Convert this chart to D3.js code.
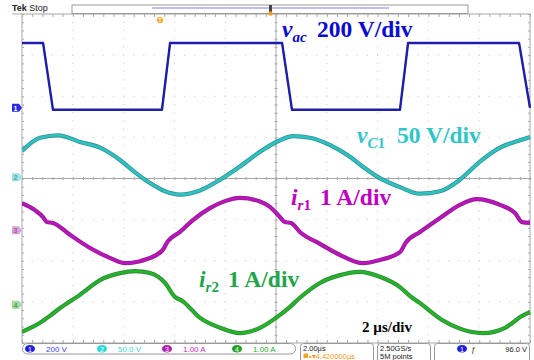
<!DOCTYPE html>
<html>
<head>
<meta charset="utf-8">
<script src="https://cdn.jsdelivr.net/npm/d3@7/dist/d3.min.js"></script>
<style>
  body { margin: 0; background: #fff; }
  svg { display: block; }
</style>
</head>
<body>
<div class="canvas"></div>
<script>
// scope settings: 2 us/div, 10 x 8 divisions
const timeDomain = [0, 20];
const divRange = [-4, 4];

// channel vertical scale (units per div) and marker position (div from centre)
const chScale = [200, 50, 1, 1];
const chOffset = [1.72, 0.03, -1.26, -3.07];

// ch1 v_ac (V)
const vacTime = [0, 0.83, 1.22, 5.51, 5.83, 10.24, 10.63, 14.88, 15.2, 19.57, 20];
const vacValue = [315, 315, -10, -10, 315, 315, -10, -10, 315, 315, 0];

// ch2 v_C1 (V)
const vc1Time = [0, 0.71, 1.42, 2.28, 3.07, 3.86, 4.45, 5.04, 5.63, 6.22, 7.01, 7.8, 8.58, 9.37, 10.16,
  10.67, 11.34, 12.13, 12.91, 13.5, 14.09, 14.88, 15.67, 16.46, 17.24, 18.03, 18.82, 19.61, 20];
const vc1Value = [32, 48, 51, 43, 36, 21, 6, -7, -17, -21, -16, -3, 13, 31, 45,
  50, 48, 39, 25, 11, -1, -12, -20, -17, -3, 19, 36, 45, 49];

// ch3 i_r1 (A)
const ir1Time = [0, 0.51, 0.83, 0.98, 1.22, 1.89, 2.68, 3.46, 4.06, 4.65, 5.51, 5.75, 6.22, 6.73, 7.4, 7.99, 8.58,
  9.37, 9.76, 10.16, 10.35, 10.59, 10.94, 11.73, 12.52, 13.43, 14.09, 14.88, 15.12, 15.67, 16.46, 17.24, 17.91,
  18.82, 19.41, 19.69, 20];
const ir1Value = [0.66, 0.49, 0.32, 0.2, 0.18, -0.11, -0.43, -0.67, -0.8, -0.75, -0.5, -0.26, -0.04, 0.25, 0.54, 0.71, 0.79,
  0.7, 0.57, 0.32, 0.2, 0.18, -0.04, -0.33, -0.6, -0.8, -0.72, -0.53, -0.29, -0.04, 0.3, 0.62, 0.76,
  0.62, 0.42, 0.2, 0.18];

// ch4 i_r2 (A)
const ir2Time = [0, 0.71, 1.1, 1.5, 2.28, 3.07, 3.86, 4.45, 5.04, 5.63, 6.02, 6.3, 7.01, 7.8, 8.58, 9.37,
  10.04, 10.55, 10.94, 11.73, 12.52, 13.31, 14.09, 14.88, 15.28, 15.67, 16.54, 17.24, 18.15, 19.02, 19.69, 20];
const ir2Value = [-0.66, -0.44, -0.27, -0.08, 0.24, 0.6, 0.77, 0.82, 0.77, 0.53, 0.19, 0.1, -0.32, -0.56, -0.69, -0.56,
  -0.3, -0.05, 0.17, 0.53, 0.72, 0.8, 0.68, 0.43, 0.21, 0.04, -0.37, -0.58, -0.69, -0.56, -0.27, -0.18];

const svgWidth = 534, svgHeight = 360;
const plot = { left: 22, right: 530, top: 14, bottom: 343 };

const svg = d3.select('.canvas').append('svg')
  .attr('width', svgWidth)
  .attr('height', svgHeight)
  .style('font-family', '"Liberation Sans", Arial, sans-serif');

const x = d3.scaleLinear().domain(timeDomain).range([plot.left, plot.right]);
const yDiv = d3.scaleLinear().domain(divRange).range([plot.bottom, plot.top]);

const gridColor = '#a8a8a8';

// graticule dots
const majorT = d3.range(2, 20, 2).filter(t => t !== 10);
const majorD = d3.range(-3, 4, 1).filter(d => d !== 0);
const minorT = d3.range(0, 20.001, 0.4);
const minorD = d3.range(-4, 4.001, 0.2);

const grid = svg.append('g');
majorT.forEach(t => {
  grid.selectAll(null).data(minorD).enter().append('rect')
    .attr('x', x(t) - 0.5).attr('y', d => yDiv(d) - 0.5)
    .attr('width', 1).attr('height', 1).attr('fill', '#c4c4c4');
});
majorD.forEach(dv => {
  grid.selectAll(null).data(minorT).enter().append('rect')
    .attr('x', t => x(t) - 0.5).attr('y', yDiv(dv) - 0.5)
    .attr('width', 1).attr('height', 1).attr('fill', '#c4c4c4');
});

// centre cross with minor ticks
grid.append('line').attr('x1', x(10)).attr('x2', x(10)).attr('y1', plot.top).attr('y2', plot.bottom)
  .attr('stroke', gridColor).attr('stroke-width', 1);
grid.append('line').attr('x1', plot.left).attr('x2', plot.right).attr('y1', yDiv(0)).attr('y2', yDiv(0))
  .attr('stroke', gridColor).attr('stroke-width', 1);

const xAxisCentre = d3.axisBottom(x).tickValues(minorT).tickSizeInner(3).tickSizeOuter(0).tickFormat('');
const yAxisCentre = d3.axisLeft(yDiv).tickValues(minorD).tickSizeInner(3).tickSizeOuter(0).tickFormat('');

function styleAxis(g) {
  g.select('.domain').remove();
  g.selectAll('line').attr('stroke', gridColor);
}
grid.append('g').attr('transform', `translate(0 ${yDiv(0) - 1.5})`).call(xAxisCentre).call(styleAxis);
grid.append('g').attr('transform', `translate(${x(10) + 1.5} 0)`).call(yAxisCentre).call(styleAxis);

// border ticks
grid.append('g').attr('transform', `translate(0 ${plot.top})`)
  .call(d3.axisBottom(x).tickValues(minorT).tickSizeInner(3).tickSizeOuter(0).tickFormat('')).call(styleAxis);
grid.append('g').attr('transform', `translate(0 ${plot.bottom})`)
  .call(d3.axisTop(x).tickValues(minorT).tickSizeInner(3).tickSizeOuter(0).tickFormat('')).call(styleAxis);
grid.append('g').attr('transform', `translate(${plot.left} 0)`)
  .call(d3.axisRight(yDiv).tickValues(minorD).tickSizeInner(2).tickSizeOuter(0).tickFormat('')).call(styleAxis);
grid.append('g').attr('transform', `translate(${plot.right} 0)`)
  .call(d3.axisLeft(yDiv).tickValues(minorD).tickSizeInner(2).tickSizeOuter(0).tickFormat('')).call(styleAxis);

grid.append('rect')
  .attr('x', plot.left).attr('y', plot.top)
  .attr('width', plot.right - plot.left).attr('height', plot.bottom - plot.top)
  .attr('fill', 'none').attr('stroke', gridColor).attr('stroke-width', 1);
grid.append('line').attr('x1', 12).attr('x2', plot.left).attr('y1', plot.top).attr('y2', plot.top)
  .attr('stroke', gridColor);

// traces
svg.append('clipPath').attr('id', 'clip').append('rect')
  .attr('x', plot.left).attr('y', plot.top - 2)
  .attr('width', plot.right - plot.left + 1).attr('height', plot.bottom - plot.top + 4);

const traces = [
  { t: vacTime, v: vacValue, ch: 0, under: '#00006e', core: '#1a1ac4', w: [2.4, 1.3], curve: d3.curveLinear },
  { t: vc1Time, v: vc1Value, ch: 1, under: '#137a7c', core: '#2cc3c3', w: [4.2, 2.6], curve: d3.curveMonotoneX },
  { t: ir1Time, v: ir1Value, ch: 2, under: '#6e006e', core: '#c010c0', w: [4.2, 2.6], curve: d3.curveMonotoneX },
  { t: ir2Time, v: ir2Value, ch: 3, under: '#0f6e12', core: '#22b52a', w: [4.2, 2.6], curve: d3.curveMonotoneX }
];

const traceGroup = svg.append('g').attr('clip-path', 'url(#clip)');
traces.forEach(tr => {
  const s = chScale[tr.ch], o = chOffset[tr.ch];
  const y = d3.scaleLinear()
    .domain([(divRange[0] - o) * s, (divRange[1] - o) * s])
    .range([plot.bottom, plot.top]);
  const pts = tr.t.map((t, i) => [t, tr.v[i]]);
  const line = d3.line().x(d => x(d[0])).y(d => y(d[1])).curve(tr.curve);
  traceGroup.append('path').attr('d', line(pts)).attr('fill', 'none')
    .attr('stroke', tr.under).attr('stroke-width', tr.w[0]).attr('stroke-linejoin', 'round').attr('opacity', 0.85);
  traceGroup.append('path').attr('d', line(pts)).attr('fill', 'none')
    .attr('stroke', tr.core).attr('stroke-width', tr.w[1]).attr('stroke-linejoin', 'round');
});

// channel ground markers on the left
const markerFill = ['#2a2ae6', '#9fe2e2', '#d9a3d9', '#a6d8a6'];
const markerText = ['#fff', '#4aa', '#a5a', '#4a4'];
chOffset.forEach((o, i) => {
  const yy = yDiv(o);
  svg.append('path')
    .attr('d', `M12 ${yy - 4} H19 L22 ${yy} L19 ${yy + 4} H12 Z`)
    .attr('fill', markerFill[i]);
  svg.append('text').attr('x', 15.5).attr('y', yy + 3).attr('text-anchor', 'middle')
    .attr('font-size', 7).attr('font-weight', 'bold').attr('fill', markerText[i]).text(i + 1);
});

// labels
const serif = '"Liberation Serif", "Times New Roman", serif';
function label(cfg) {
  const g = svg.append('g').attr('fill', cfg.color).attr('font-family', serif).attr('font-weight', 'bold');
  const sym = g.append('text').attr('x', cfg.x).attr('y', cfg.y).attr('font-size', 23.5);
  sym.append('tspan').attr('font-style', 'italic').text(cfg.sym);
  const sub = sym.append('tspan').attr('font-size', 15).attr('dy', 5);
  sub.append('tspan').attr('font-style', 'italic').text(cfg.sub);
  if (cfg.subNum) sub.append('tspan').text(cfg.subNum);
  g.append('text').attr('x', cfg.restX).attr('y', cfg.y).attr('font-size', 23.5).text(cfg.rest);
}
label({ x: 282, y: 37, color: '#0a0ad2', sym: 'v', sub: 'ac', rest: '200 V/div', restX: 317 });
label({ x: 357, y: 143, color: '#30c6c8', sym: 'v', sub: 'C', subNum: '1', rest: '50 V/div', restX: 397 });
label({ x: 291, y: 205, color: '#c000c0', sym: 'i', sub: 'r', subNum: '1', rest: '1 A/div', restX: 320 });
label({ x: 199, y: 287, color: '#1fa54a', sym: 'i', sub: 'r', subNum: '2', rest: '1 A/div', restX: 228 });

svg.append('text').attr('x', 362).attr('y', 332)
  .attr('font-family', serif).attr('font-weight', 'bold').attr('font-size', 15)
  .attr('fill', '#000').text('2 \u00b5s/div');

// header
const head = svg.append('text').attr('x', 12).attr('y', 11).attr('font-size', 9).attr('fill', '#222');
head.append('tspan').attr('font-weight', 'bold').text('Tek');
head.append('tspan').text(' Stop');

svg.append('rect').attr('x', 72).attr('y', 5).attr('width', 396).attr('height', 8.5)
  .attr('fill', '#fff').attr('stroke', '#999');
svg.append('line').attr('x1', 152).attr('x2', 389).attr('y1', 8).attr('y2', 8)
  .attr('stroke', '#a9a9f2').attr('stroke-width', 1.5);
svg.append('rect').attr('x', 269).attr('y', 5).attr('width', 3).attr('height', 8).attr('fill', '#444');
svg.append('circle').attr('cx', 270.5).attr('cy', 13.5).attr('r', 2.2).attr('fill', '#f29a1a');
svg.append('circle').attr('cx', 160).attr('cy', 20).attr('r', 3).attr('fill', '#f5a623');
svg.append('text').attr('x', 160).attr('y', 22).attr('text-anchor', 'middle')
  .attr('font-size', 5).attr('font-weight', 'bold').attr('fill', '#fff').text('T');

// status bar
const bar = svg.append('g').attr('font-size', 7.5);
bar.append('rect').attr('x', 22.5).attr('y', 343.5).attr('width', 273).attr('height', 10.5).attr('rx', 5)
  .attr('fill', '#fff').attr('stroke', '#999');
const chBadge = ['#1e1ee6', '#22dada', '#b020b0', '#22a022'];
const chText = ['#3a3aff', '#3fd6d6', '#c02cc0', '#2aae2a'];
const chSetting = ['200 V', '50.0 V', '1.00 A', '1.00 A'];
const badgeX = [30, 102, 167, 237];
chSetting.forEach((s, i) => {
  bar.append('ellipse').attr('cx', badgeX[i]).attr('cy', 348.8).attr('rx', 5).attr('ry', 3.8).attr('fill', chBadge[i]);
  bar.append('text').attr('x', badgeX[i]).attr('y', 351.5).attr('text-anchor', 'middle')
    .attr('font-size', 7).attr('fill', '#fff').text(i + 1);
  bar.append('text').attr('x', badgeX[i] + 16).attr('y', 351.5).attr('font-size', 8).attr('fill', chText[i]).text(s);
});

bar.append('rect').attr('x', 300.5).attr('y', 343.5).attr('width', 73).attr('height', 20).attr('rx', 3)
  .attr('fill', '#fff').attr('stroke', '#999');
bar.append('text').attr('x', 303).attr('y', 350.8).attr('fill', '#222').text('2.00\u00b5s');
bar.append('rect').attr('x', 303.5).attr('y', 353.5).attr('width', 4.5).attr('height', 4.5).attr('fill', '#f5a623');
bar.append('text').attr('x', 309).attr('y', 358.6).attr('fill', '#f29a1a').text('\u2022\u25be4.420000\u00b5s');

bar.append('rect').attr('x', 377.5).attr('y', 343.5).attr('width', 53).attr('height', 20).attr('rx', 3)
  .attr('fill', '#fff').attr('stroke', '#999');
bar.append('text').attr('x', 380).attr('y', 350.8).attr('fill', '#222').text('2.50GS/s');
bar.append('text').attr('x', 380).attr('y', 358.6).attr('fill', '#222').text('5M points');

bar.append('rect').attr('x', 434.5).attr('y', 343.5).attr('width', 95).attr('height', 20).attr('rx', 3)
  .attr('fill', '#fff').attr('stroke', '#999');
bar.append('ellipse').attr('cx', 462).attr('cy', 348.8).attr('rx', 5).attr('ry', 3.8).attr('fill', chBadge[0]);
bar.append('text').attr('x', 462).attr('y', 351.5).attr('text-anchor', 'middle')
  .attr('font-size', 7).attr('fill', '#fff').text('1');
bar.append('text').attr('x', 471).attr('y', 351.5).attr('font-style', 'italic').attr('fill', '#222').text('\u0192');
bar.append('text').attr('x', 527).attr('y', 351.5).attr('text-anchor', 'end').attr('fill', '#222').text('96.0 V');
</script>
</body>
</html>
